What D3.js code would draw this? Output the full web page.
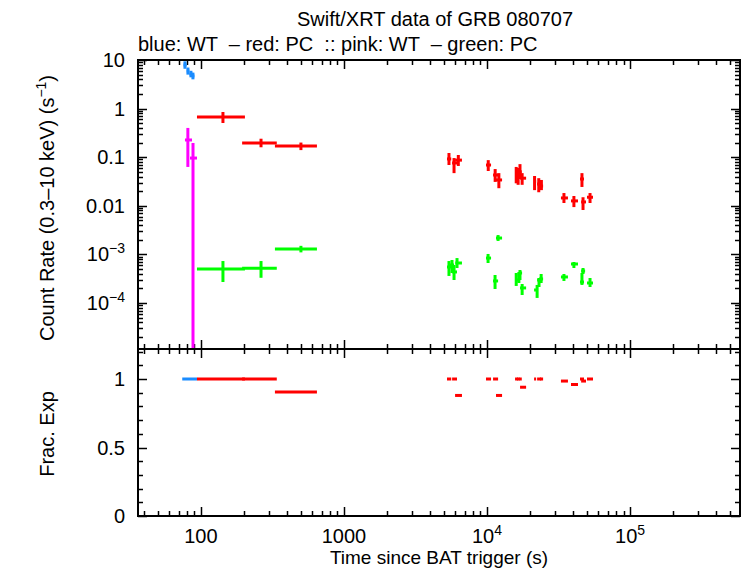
<!DOCTYPE html>
<html>
<head>
<meta charset="utf-8">
<script src="https://d3js.org/d3.v7.min.js"></script>
<style>
  body { margin: 0; background: #fff; }
  svg text { font-family: "Liberation Sans", Arial, Helvetica, sans-serif; fill: #000; font-size: 20px; }
</style>
</head>
<body>
<svg id="chart" width="746" height="568"></svg>
<script>
"use strict";

// each row: [t, tStart, tEnd, rate, rateHi, rateLo]
const wtBlue = [
  [77.3, 75.5, 79.5, 7.9, 9.4, 6.6],
  [81.1, 79.5, 83.0, 5.94, 7.0, 5.0],
  [85.1, 83.0, 87.0, 5.15, 6.0, 4.4],
  [87.9, 86.5, 90.0, 4.69, 5.5, 4.0]
];
const wtPink = [
  [81, 77.3, 86.6, 0.226, 0.40, 0.063],
  [88, 83.8, 93.8, 0.096, 0.196, 1e-7]
];
const pcRed = [
  [142.5, 93.8, 203, 0.67, 0.85, 0.506],
  [263, 194, 339, 0.196, 0.24, 0.16],
  [500, 329, 647, 0.17, 0.2, 0.14],
  [5420, 5250, 5620, 0.092, 0.122, 0.069],
  [5880, 5700, 6170, 0.076, 0.096, 0.047],
  [6300, 5980, 6680, 0.087, 0.111, 0.066],
  [10200, 9840, 10670, 0.069, 0.087, 0.052],
  [11400, 11020, 11950, 0.043, 0.057, 0.031],
  [12100, 11560, 12740, 0.034, 0.047, 0.023],
  [16000, 15700, 16440, 0.047, 0.063, 0.029],
  [16500, 16200, 16900, 0.04, 0.06, 0.027],
  [17000, 16700, 17500, 0.05, 0.072, 0.0356],
  [17600, 17020, 18760, 0.037, 0.047, 0.027],
  [21500, 21330, 22040, 0.032, 0.041, 0.021],
  [23000, 22400, 23900, 0.028, 0.037, 0.019],
  [24000, 23500, 24660, 0.0255, 0.034, 0.021],
  [34500, 32870, 36800, 0.0145, 0.0183, 0.0114],
  [40500, 38640, 43250, 0.0126, 0.0159, 0.0094],
  [46100, 44670, 47640, 0.0356, 0.047, 0.0244],
  [46900, 45500, 49200, 0.012, 0.015, 0.0082],
  [52500, 50000, 55080, 0.015, 0.0183, 0.0114]
];
const pcGreen = [
  [142.5, 93.8, 203, 5.0e-4, 7.3e-4, 2.7e-4],
  [263, 194, 339, 5.2e-4, 7.3e-4, 3.3e-4],
  [500, 329, 647, 1.29e-3, 1.5e-3, 1.1e-3],
  [5420, 5250, 5620, 5.5e-4, 7.3e-4, 3.6e-4],
  [5690, 5510, 5880, 6.05e-4, 7.67e-4, 4.14e-4],
  [5880, 5700, 6170, 4.35e-4, 6.05e-4, 2.97e-4],
  [6170, 6000, 6680, 6.65e-4, 8.4e-4, 5.25e-4],
  [10170, 9840, 10670, 8.4e-4, 1.02e-3, 6.65e-4],
  [11950, 11560, 12740, 2.17e-3, 2.5e-3, 1.89e-3],
  [11380, 11020, 11950, 2.84e-4, 3.77e-4, 1.94e-4],
  [16000, 15700, 16440, 2.97e-4, 4.14e-4, 2.24e-4],
  [16700, 16400, 17000, 3.77e-4, 4.35e-4, 2.58e-4],
  [17000, 16760, 17580, 4.14e-4, 4.77e-4, 2.97e-4],
  [17600, 17020, 18760, 2.04e-4, 2.46e-4, 1.46e-4],
  [22400, 21330, 22400, 1.85e-4, 2.35e-4, 1.27e-4],
  [23100, 22400, 23900, 2.97e-4, 3.27e-4, 2.13e-4],
  [23900, 23100, 24660, 3.12e-4, 3.95e-4, 2.58e-4],
  [34500, 32870, 36800, 3.43e-4, 3.95e-4, 2.84e-4],
  [40500, 38640, 43250, 6.34e-4, 6.98e-4, 5.25e-4],
  [46100, 44670, 47640, 2.7e-4, 4.14e-4, 2.35e-4],
  [46900, 45500, 48500, 4.55e-4, 5.25e-4, 3.95e-4],
  [52500, 50000, 55080, 2.58e-4, 3.27e-4, 2.13e-4]
];
// fractional exposure: [tStart, tEnd, frac]
const fracBlue = [[74, 94, 1]];
const fracRed = [
  [93.8, 203, 1], [194, 339, 1], [329, 647, 0.905],
  [5250, 5620, 1], [5700, 6170, 1], [5980, 6680, 0.88],
  [9840, 10670, 1], [11020, 11950, 1], [11560, 12740, 0.88],
  [15700, 16440, 1], [16200, 16900, 1], [16700, 17500, 1], [17020, 18760, 0.94],
  [21330, 22040, 1], [22400, 23900, 1], [23500, 24660, 1],
  [32870, 36800, 0.985], [38640, 43250, 0.96],
  [44670, 47640, 1], [45500, 49200, 0.985], [50000, 55080, 1]
];

const xTicks = [100, 1000, 1e4, 1e5];
const xTickLabels = ["100", "1000", "10^4", "10^5"];
const yTicks = [10, 1, 0.1, 0.01, 1e-3, 1e-4];
const yTickLabels = ["10", "1", "0.1", "0.01", "10^−3", "10^−4"];
const fracTicks = [0, 0.5, 1];
const fracTickLabels = ["0", "0.5", "1"];

(function() {
  const svg = d3.select("#chart");
  const left = 138, right = 740, top = 60, mid = 349, bottom = 516;

  const x = d3.scaleLog().domain([36.3, 5.87e5]).range([left, right]);
  const y = d3.scaleLog().domain([1.13e-5, 10]).range([mid, top]);
  const yf = d3.scaleLinear().domain([0, 1.219]).range([bottom, mid]);

  const defs = svg.append("defs");
  defs.append("clipPath").attr("id", "clipTop")
    .append("rect").attr("x", left).attr("y", top).attr("width", right - left).attr("height", mid - top);
  defs.append("clipPath").attr("id", "clipBot")
    .append("rect").attr("x", left).attr("y", mid).attr("width", right - left).attr("height", bottom - mid);

  // superscript helper for labels like 10^4
  function supText(sel, str) {
    const parts = str.split("^");
    sel.append("tspan").text(parts[0]);
    if (parts.length > 1) {
      sel.append("tspan").attr("dy", -8).style("font-size", "14px").text(parts[1]);
    }
  }

  // minor ticks for log axes
  function logMinor(lo, hi) {
    const out = [];
    for (let e = Math.floor(Math.log10(lo)); e <= Math.ceil(Math.log10(hi)); e++) {
      for (let m = 1; m < 10; m++) {
        const v = m * Math.pow(10, e);
        if (v >= lo && v <= hi) out.push({v: v, major: m === 1});
      }
    }
    return out;
  }

  const tickG = svg.append("g").attr("stroke", "#000").attr("stroke-width", 1.5);

  // x ticks on top, middle (both ways) and bottom
  logMinor(36.3, 5.87e5).forEach(t => {
    const px = Math.round(x(t.v)) + 0.5;
    const len = t.major ? 9 : 5;
    [[top, len], [mid, -len], [mid, len], [bottom, -len]].forEach(d => {
      tickG.append("line").attr("x1", px).attr("x2", px).attr("y1", d[0]).attr("y2", d[0] + d[1]);
    });
  });

  // y ticks top panel
  logMinor(1.13e-5, 10).forEach(t => {
    const py = Math.round(y(t.v)) + 0.5;
    const len = t.major ? 9 : 5;
    tickG.append("line").attr("x1", left).attr("x2", left + len).attr("y1", py).attr("y2", py);
    tickG.append("line").attr("x1", right).attr("x2", right - len).attr("y1", py).attr("y2", py);
  });

  // y ticks lower panel
  d3.range(0, 13).forEach(i => {
    const v = i / 10;
    const py = Math.round(yf(v)) + 0.5;
    const len = (i % 5 === 0) ? 9 : 5;
    tickG.append("line").attr("x1", left).attr("x2", left + len).attr("y1", py).attr("y2", py);
    tickG.append("line").attr("x1", right).attr("x2", right - len).attr("y1", py).attr("y2", py);
  });

  // data marks
  function drawErr(g, data, color) {
    g.selectAll(null).data(data).enter().append("line")
      .attr("x1", d => x(d[1])).attr("x2", d => x(d[2]))
      .attr("y1", d => y(d[3])).attr("y2", d => y(d[3]))
      .attr("stroke", color).attr("stroke-width", 3);
    g.selectAll(null).data(data).enter().append("line")
      .attr("x1", d => x(d[0])).attr("x2", d => x(d[0]))
      .attr("y1", d => y(d[4])).attr("y2", d => y(d[5]))
      .attr("stroke", color).attr("stroke-width", 3);
  }
  const gTop = svg.append("g").attr("clip-path", "url(#clipTop)");
  drawErr(gTop, pcGreen, "#00ff00");
  drawErr(gTop, pcRed, "#ff0000");
  drawErr(gTop, wtBlue, "#1a8cff");
  drawErr(gTop, wtPink, "#ff00ff");

  const gBot = svg.append("g").attr("clip-path", "url(#clipBot)");
  function drawFrac(data, color) {
    gBot.selectAll(null).data(data).enter().append("line")
      .attr("x1", d => x(d[0])).attr("x2", d => x(d[1]))
      .attr("y1", d => yf(d[2])).attr("y2", d => yf(d[2]))
      .attr("stroke", color).attr("stroke-width", 3);
  }
  drawFrac(fracBlue, "#1a8cff");
  drawFrac(fracRed, "#ff0000");

  // frame
  svg.append("rect").attr("x", left).attr("y", top).attr("width", right - left).attr("height", bottom - top)
    .attr("fill", "none").attr("stroke", "#000").attr("stroke-width", 2);
  svg.append("line").attr("x1", left).attr("x2", right).attr("y1", mid).attr("y2", mid)
    .attr("stroke", "#000").attr("stroke-width", 2);

  // tick labels
  xTicks.forEach((t, i) => {
    const tx = svg.append("text").attr("x", x(t)).attr("y", 543)
      .attr("text-anchor", "middle");
    supText(tx, xTickLabels[i]);
  });
  yTicks.forEach((t, i) => {
    const tx = svg.append("text").attr("x", 125).attr("y", y(t) + 7)
      .attr("text-anchor", "end");
    supText(tx, yTickLabels[i]);
  });
  fracTicks.forEach((t, i) => {
    svg.append("text").attr("x", 125).attr("y", yf(t) + 7)
      .attr("text-anchor", "end").text(fracTickLabels[i]);
  });

  // titles
  svg.append("text").attr("x", 435).attr("y", 26).attr("text-anchor", "middle")
    .text("Swift/XRT data of GRB 080707");
  svg.append("text").attr("x", 138).attr("y", 51)
    .style("white-space", "pre")
    .text("blue: WT  \u2013 red: PC  :: pink: WT  \u2013 green: PC");
  svg.append("text").attr("x", 439).attr("y", 564).attr("text-anchor", "middle")
    .style("font-size", "19px")
    .text("Time since BAT trigger (s)");

  const yl = svg.append("text").attr("transform", "translate(54,208) rotate(-90)")
    .attr("text-anchor", "middle");
  yl.append("tspan").text("Count Rate (0.3\u201310 keV) (s");
  yl.append("tspan").attr("dy", -8).style("font-size", "14px").text("\u22121");
  yl.append("tspan").attr("dy", 8).text(")");

  svg.append("text").attr("transform", "translate(54,434) rotate(-90)")
    .attr("text-anchor", "middle").text("Frac. Exp");
})();
</script>
</body>
</html>
